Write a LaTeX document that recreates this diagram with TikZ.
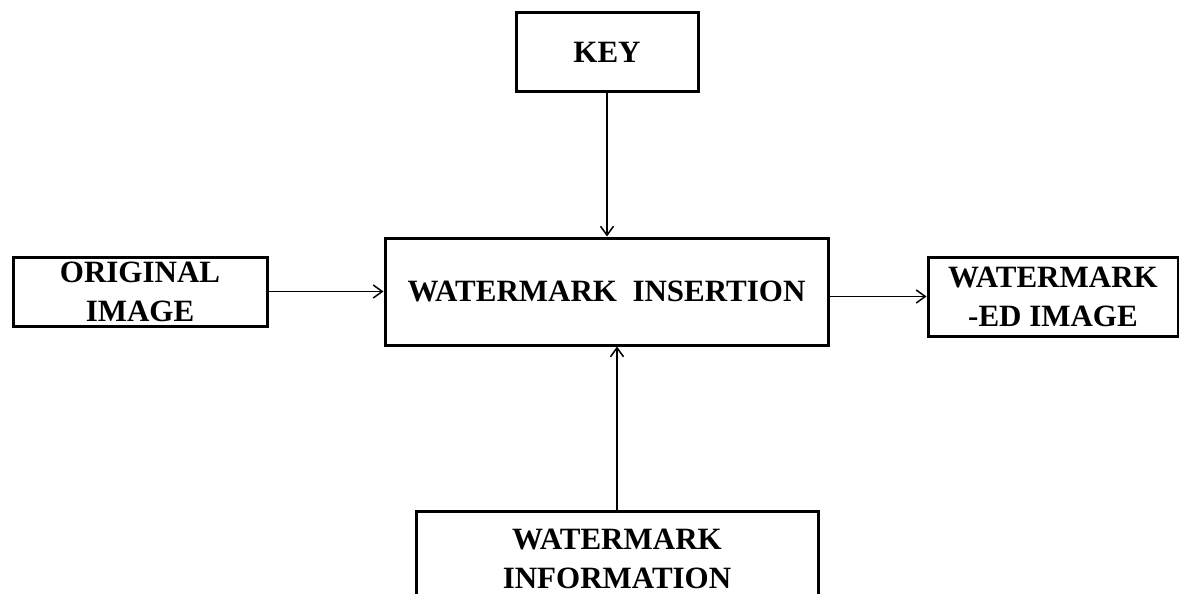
\documentclass[tikz,border=0pt]{standalone}
\usepackage{fontspec}
\setmainfont{Liberation Serif}
\usetikzlibrary{arrows.meta}
\begin{document}
\begin{tikzpicture}[x=1pt,y=-1pt,
  blk/.style={draw=black, line width=3pt, inner sep=0pt, align=center,
    font=\fontsize{31}{39}\selectfont\bfseries},
  conn/.style={line width=1.6pt, -{Straight Barb[length=9pt,width=13pt,line width=1.5pt]}}]
\useasboundingbox (0,0) rectangle (1179,594);
\begin{scope}
\clip (0,0) rectangle (1179,594);
\node[blk, minimum width=182pt, minimum height=79pt] (key) at (607,52.5) {KEY};
\node[blk, minimum width=443pt, minimum height=107pt] (main) at (606.5,291.5) {WATERMARK\ \ INSERTION};
\node[blk, minimum width=254pt, minimum height=69pt] (orig) at (140,291.5) {ORIGINAL\\IMAGE};
\node[blk, minimum width=250pt, minimum height=79pt] (wm) at (1053,296.5) {WATERMARK\\-ED IMAGE};
\node[blk, minimum width=402pt, minimum height=96pt] (info) at (617,559) {WATERMARK\\INFORMATION};
\end{scope}
\draw[conn] (key.south) -- (main.north -| key.south);
\draw[conn] (orig.east) -- (main.west);
\draw[conn] (main.east |- wm.west) -- (wm.west);
\draw[conn] (info.north) -- (info.north |- main.south);
\end{tikzpicture}
\end{document}
